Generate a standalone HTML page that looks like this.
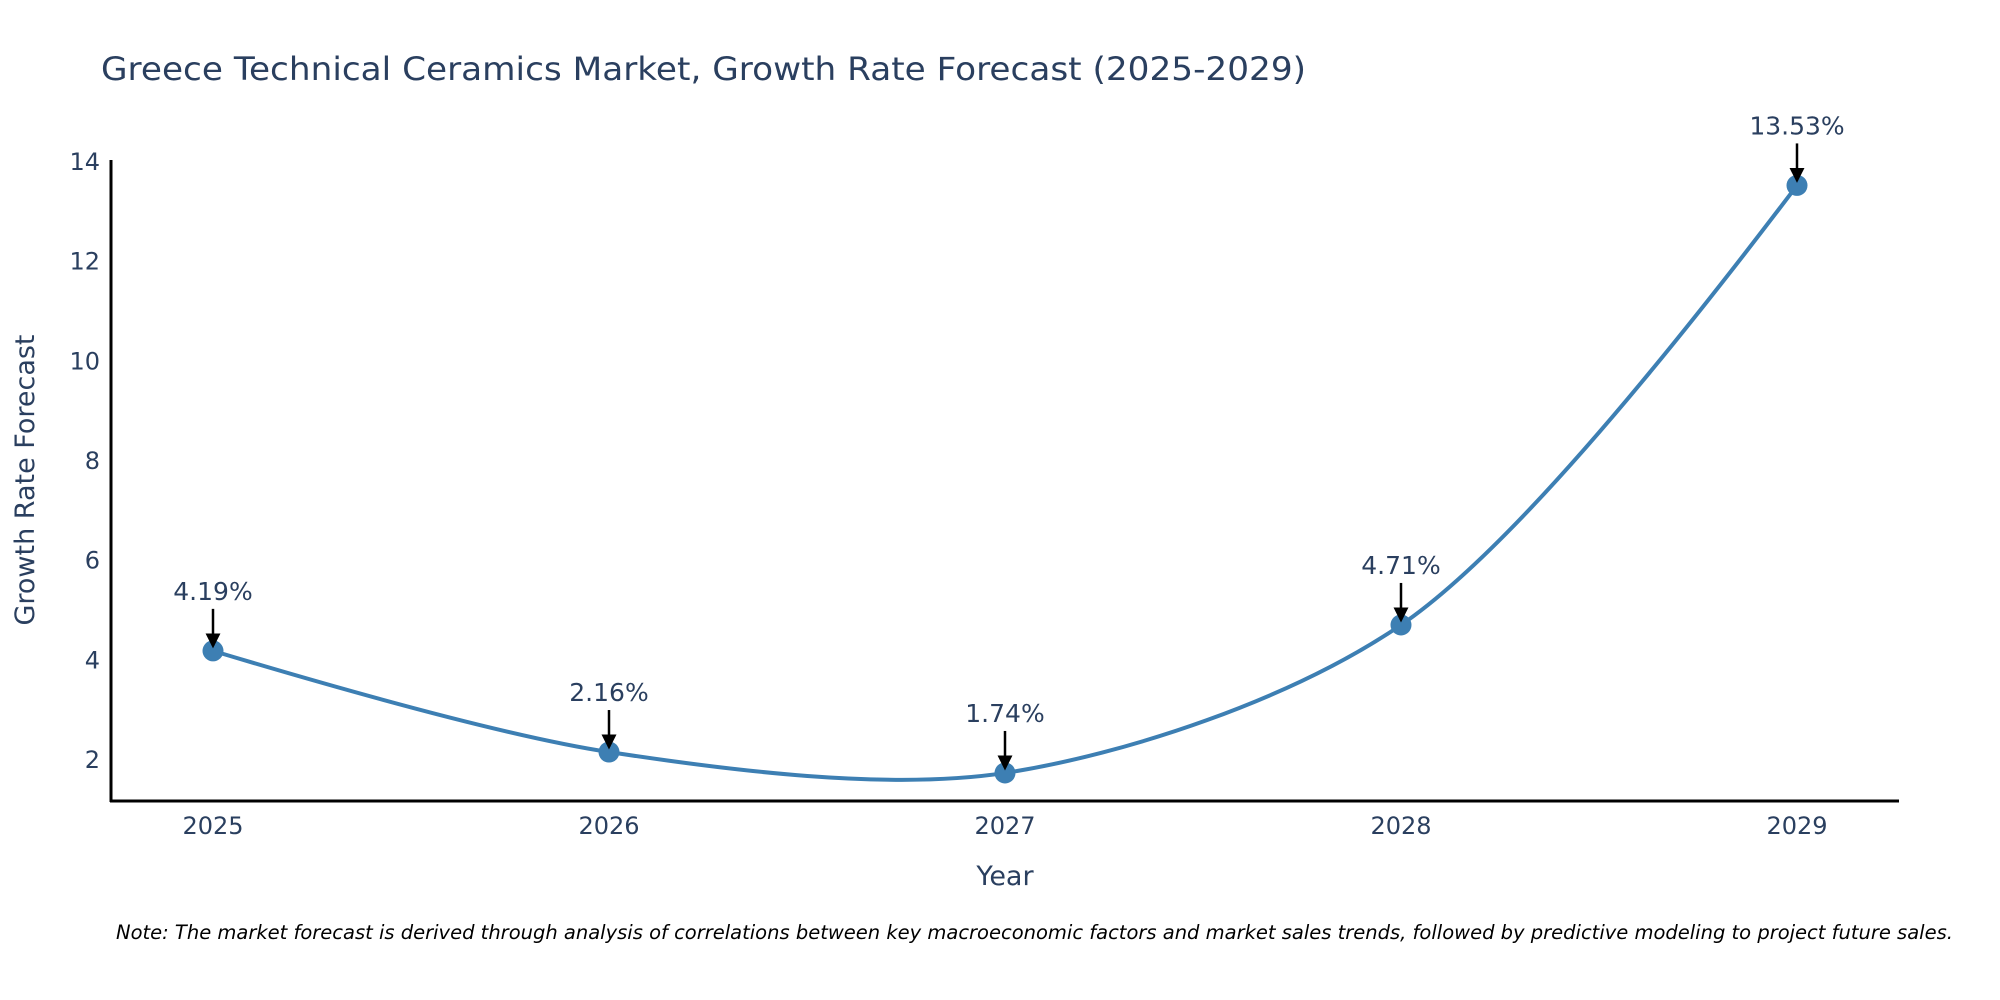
<!DOCTYPE html>
<html><head><meta charset="utf-8"><style>
html,body{margin:0;padding:0;background:#fff;}
svg{display:block;font-family:"DejaVu Sans","Liberation Sans",sans-serif;}
</style></head><body>
<svg id="chart" width="2000" height="1000">
<defs><marker id="ah" markerWidth="6" markerHeight="6" refX="5" refY="3" orient="auto" markerUnits="strokeWidth"><path d="M0,0 L6,3 L0,6 Z" fill="#000"/></marker></defs>
<text x="101" y="80" font-size="32" fill="#2a3f5f" textLength="1205" lengthAdjust="spacingAndGlyphs">Greece Technical Ceramics Market, Growth Rate Forecast (2025-2029)</text>
<g id="yticks"></g><g id="xticks"></g>
<line x1="111" y1="160" x2="111" y2="802" stroke="#000" stroke-width="3"/>
<line x1="110" y1="801" x2="1899" y2="801" stroke="#000" stroke-width="3"/>
<text x="1005" y="885" font-size="27" fill="#2a3f5f" text-anchor="middle">Year</text>
<text transform="translate(34,480) rotate(-90)" font-size="27" fill="#2a3f5f" text-anchor="middle">Growth Rate Forecast</text>
<g id="series"></g>
<text x="116" y="939" font-size="19.5" font-style="italic" fill="#000">Note: The market forecast is derived through analysis of correlations between key macroeconomic factors and market sales trends, followed by predictive modeling to project future sales.</text>
</svg>
<script>
const years=[2025,2026,2027,2028,2029];
const values=[4.19,2.16,1.74,4.71,13.53];
const labels=["4.19%","2.16%","1.74%","4.71%","13.53%"];
const yTickVals=[2,4,6,8,10,12,14];
const NS="http://www.w3.org/2000/svg";
function xS(v){return 213+(v-2025)*(1797-213)/4;}
function yS(v){return 760-(v-2)*(760-162)/12;}
function mk(t,a,p){const e=document.createElementNS(NS,t);for(const k in a)e.setAttribute(k,a[k]);p.appendChild(e);return e;}
const yt=document.getElementById('yticks');
yTickVals.forEach(v=>{const t=mk('text',{x:100,y:yS(v)+8,'font-size':24,fill:'#2a3f5f','text-anchor':'end'},yt);t.textContent=v;

});
const xt=document.getElementById('xticks');
years.forEach(v=>{const t=mk('text',{x:xS(v),y:834,'font-size':24,fill:'#2a3f5f','text-anchor':'middle'},xt);t.textContent=v;

});
const pts=years.map((y,i)=>[xS(y),yS(values[i])]);
function tang(p0,p1,p2,s){const d1x=p0[0]-p1[0],d1y=p0[1]-p1[1],d2x=p2[0]-p1[0],d2y=p2[1]-p1[1];
const d1a=Math.pow(d1x*d1x+d1y*d1y,0.25),d2a=Math.pow(d2x*d2x+d2y*d2y,0.25);
const nx=(d2a*d2a*d1x-d1a*d1a*d2x)*s,ny=(d2a*d2a*d1y-d1a*d1a*d2y)*s;
const de1=3*d2a*(d1a+d2a),de2=3*d1a*(d1a+d2a);
return [[p1[0]+nx/de1,p1[1]+ny/de1],[p1[0]-nx/de2,p1[1]-ny/de2]];}
const T=[];for(let i=1;i<pts.length-1;i++)T.push(tang(pts[i-1],pts[i],pts[i+1],0.9));
let d=`M${pts[0]}Q${T[0][0]} ${pts[1]}`;
for(let i=1;i<pts.length-2;i++)d+=`C${T[i-1][1]} ${T[i][0]} ${pts[i+1]}`;
d+=`Q${T[T.length-1][1]} ${pts[pts.length-1]}`;
const g=document.getElementById('series');
const line=mk('path',{d:d,fill:'none',stroke:'#3d7fb3','stroke-width':4},g);


pts.forEach((p,i)=>{const c=mk('circle',{cx:p[0],cy:p[1],r:10.5,fill:'#3d7fb3'},g);


const a=mk('line',{x1:p[0],y1:p[1]-42,x2:p[0],y2:p[1]-5,stroke:'#000','stroke-width':2.5,'marker-end':'url(#ah)'},g);


const t=mk('text',{x:p[0],y:p[1]-51,'font-size':25,fill:'#2a3f5f','text-anchor':'middle'},g);t.textContent=labels[i];

});
</script>
</body></html>
